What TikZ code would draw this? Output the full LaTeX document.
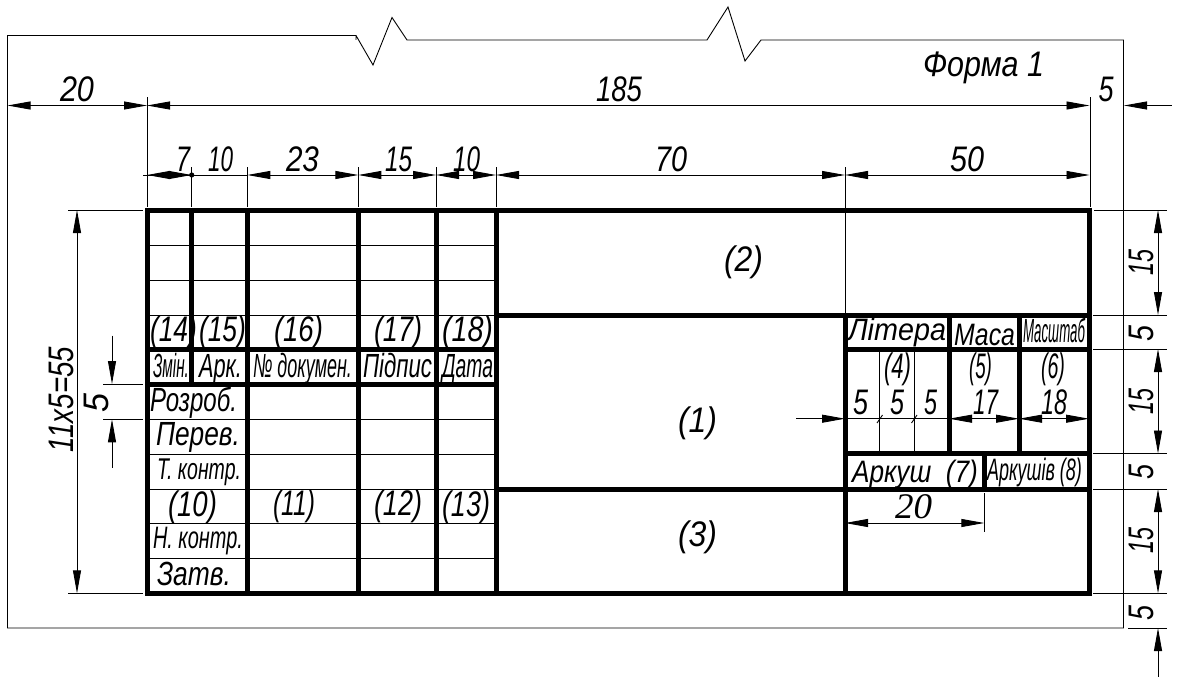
\documentclass[tikz,border=0pt]{standalone}
\usepackage{graphicx}
\usepackage{fontspec}
\setmainfont{Liberation Sans}
\newfontfamily\drawserif{Liberation Serif}
\usetikzlibrary{arrows.meta}
\tikzset{
  thinline/.style={line width=0.9pt,black},
  heavy/.style={line width=5pt,black,line cap=rect},
  dimtip/.tip={Triangle[length=23pt,width=8pt]},
  dimline/.style={line width=0.9pt,black},
  lbl/.style={anchor=base,inner sep=0pt,outer sep=0pt,font=\itshape,text=black},
  lblr/.style={lbl,rotate=90}
}
\newsavebox\labelbox
\newcommand\fitlabel[3]{\sbox\labelbox{\fontsize{#2}{#2}\selectfont #3}\pgfmathsetmacro\labelfactor{#1/\the\wd\labelbox}\scalebox{\labelfactor}[1]{\usebox\labelbox}}
% name, x, baseline y, width, font size, text
\newcommand\tx[6]{\node[lbl] (#1) at (#2,#3) {\fitlabel{#4}{#5}{#6}};}
\newcommand\txr[6]{\node[lblr] (#1) at (#2,#3) {\fitlabel{#4}{#5}{#6}};}
\begin{document}
\begin{tikzpicture}[x=1pt,y=-1pt]
\useasboundingbox (0,0) rectangle (1177,677);
% form outline
\draw[thinline] (356,40) -- (356,35.5) -- (7.5,35.5) -- (7.5,628) -- (1123.5,628) -- (1123.5,40) -- (761,40) -- (745,61) -- (728,7) -- (707,40) -- (407,40) -- (392,17.5) -- (373,65) -- (356,35.5);
% extension lines
\draw[thinline] (147,97) -- (147,207);
\draw[thinline] (191.7,167) -- (191.7,207);
\draw[thinline] (247.3,167) -- (247.3,207);
\draw[thinline] (358.3,167) -- (358.3,207);
\draw[thinline] (436,167) -- (436,207);
\draw[thinline] (496,167) -- (496,207);
\draw[thinline] (845,167) -- (845,315);
\draw[thinline] (1090,97) -- (1090,207);
\draw[thinline] (68,210) -- (143,210);
\draw[thinline] (68,593.3) -- (143,593.3);
\draw[thinline] (103,384) -- (143,384);
\draw[thinline] (103,419.3) -- (143,419.3);
\draw[thinline] (1094,210) -- (1167,210);
\draw[thinline] (1093,315) -- (1167,315);
\draw[thinline] (1093,349) -- (1167,349);
\draw[thinline] (1093,453.5) -- (1167,453.5);
\draw[thinline] (1093,489) -- (1167,489);
\draw[thinline] (1093,593.3) -- (1167,593.3);
\draw[thinline] (1128,628) -- (1167,628);
\draw[thinline] (984.3,493) -- (984.3,532);
% dimension lines
\draw[dimline,{dimtip}-{dimtip}] (7.5,105.5) -- (147,105.5);
\draw[dimline,{dimtip}-{dimtip}] (147,105.5) -- (1089.5,105.5);
\draw[dimline,{dimtip}-] (1124,105.5) -- (1172,105.5);
\draw[dimline,-{dimtip}] (143,175) -- (191.7,175);
\draw[dimline,{dimtip}-] (147,175) -- (191.7,175);
\draw[dimline] (191.7,175) -- (247.3,175);
\fill (191.7,175) circle (2.6pt);
\draw[dimline,{dimtip}-{dimtip}] (247.3,175) -- (358.3,175);
\draw[dimline,{dimtip}-{dimtip}] (358.3,175) -- (436,175);
\draw[dimline,{dimtip}-{dimtip}] (436,175) -- (496,175);
\draw[dimline,{dimtip}-{dimtip}] (496,175) -- (845,175);
\draw[dimline,{dimtip}-{dimtip}] (845,175) -- (1089.5,175);
\draw[dimline,{dimtip}-{dimtip}] (77,210) -- (77,593.3);
\draw[dimline,-{dimtip}] (112,335.5) -- (112,384);
\draw[dimline,{dimtip}-] (112,419.3) -- (112,468);
\draw[dimline,{dimtip}-{dimtip}] (1158,210) -- (1158,315);
\draw[dimline,{dimtip}-{dimtip}] (1158,349) -- (1158,453.5);
\draw[dimline,{dimtip}-{dimtip}] (1158,489) -- (1158,593.3);
\draw[dimline,{dimtip}-] (1158,628) -- (1158,677);
\draw[dimline,-{dimtip}] (796,418.7) -- (845,418.7);
\draw[dimline] (845,418.7) -- (949,418.7);
\draw[dimline,{dimtip}-{dimtip}] (949,418.7) -- (1019,418.7);
\draw[dimline,{dimtip}-{dimtip}] (1019,418.7) -- (1089,418.7);
\draw[dimline,{dimtip}-{dimtip}] (845,523) -- (984.3,523);
% thin cells
\foreach \y in {245,280,315,419.3,454.3,489,523.3,558.3}
  \draw[thinline] (147,\y) -- (496,\y);
\draw[thinline] (879.7,349) -- (879.7,453.5);
\draw[thinline] (914.3,349) -- (914.3,453.5);
\draw[thinline] (877,423) -- (882.5,415);
\draw[thinline] (911.5,423) -- (917,415);
% heavy frame
\draw[heavy] (147,210) rectangle (1089,593.3);
\foreach \x in {247.3,358.3,436,496}
  \draw[heavy] (\x,210) -- (\x,593.3);
\draw[heavy] (191.7,210) -- (191.7,384);
\draw[heavy] (147,349.3) -- (496,349.3);
\draw[heavy] (147,384) -- (496,384);
\draw[heavy] (496,315) -- (1089,315);
\draw[heavy] (496,489) -- (1089,489);
\draw[heavy] (845,315) -- (845,593.3);
\draw[heavy] (845,349) -- (1089,349);
\draw[heavy] (845,453.5) -- (1089,453.5);
\draw[heavy] (949.3,315) -- (949.3,453.5);
\draw[heavy] (1019,315) -- (1019,453.5);
\draw[heavy] (984.3,453.5) -- (984.3,489);
% top texts
\tx{a20}{77}{101}{34}{35.5}{20}
\tx{a185}{619}{101}{46}{35.5}{185}
\tx{a5}{1106}{101}{15}{35.5}{5}
\tx{forma}{983.5}{77}{121}{35.5}{Форма 1}
\tx{b7}{183}{171}{14}{35.5}{7}
\tx{b10}{220.5}{171}{25}{35.5}{10}
\tx{b23}{302.5}{171}{33}{35.5}{23}
\tx{b15}{398.5}{171}{27}{35.5}{15}
\tx{b10b}{466.5}{171}{27}{35.5}{10}
\tx{b70}{671}{171}{32}{35.5}{70}
\tx{b50}{967}{171}{34}{35.5}{50}
% left and right rotated
\txr{c55}{73}{399.5}{105}{35.5}{11x5=55}
\txr{c5}{108}{402.5}{19}{35.5}{5}
\txr{d15a}{1153}{262}{26}{35.5}{15}
\txr{d5a}{1153}{333}{16}{35.5}{5}
\txr{d15b}{1153}{401.5}{26}{35.5}{15}
\txr{d5b}{1153}{471.5}{15}{35.5}{5}
\txr{d15c}{1153}{540}{26}{35.5}{15}
\txr{d5c}{1153}{612.5}{15}{35.5}{5}
% big centres
\tx{n2}{743.5}{271}{39}{35.5}{(2)}
\tx{n1}{697.5}{432}{39}{35.5}{(1)}
\tx{n3}{697.5}{546}{39}{35.5}{(3)}
% left table
\tx{n14}{173.5}{341}{47}{35.5}{(14)}
\tx{n15}{222.5}{341}{47}{35.5}{(15)}
\tx{n16}{298.5}{341}{49}{35.5}{(16)}
\tx{n17}{398}{341}{48}{35.5}{(17)}
\tx{n18}{467.5}{341}{51}{35.5}{(18)}
\tx{zmin}{171}{377}{36}{33.5}{Змін.}
\tx{ark}{220.5}{377}{43}{33.5}{Арк.}
\tx{doc}{302.5}{377}{99}{33.5}{№ докумен.}
\tx{pidp}{397.5}{377}{69}{33.5}{Підпис}
\tx{data}{467.5}{377}{51}{33.5}{Дата}
\tx{rozr}{193.5}{411}{87}{33.5}{Розроб.}
\tx{perev}{198}{445}{84}{33.5}{Перев.}
\tx{tkon}{199}{479}{84}{30}{Т. контр.}
\tx{n10}{192.5}{516}{49}{35.5}{(10)}
\tx{n11}{294}{515}{42}{35.5}{(11)}
\tx{n12}{398}{515}{48}{35.5}{(12)}
\tx{n13}{466}{516}{48}{35.5}{(13)}
\tx{nkon}{198}{548}{90}{31}{Н. контр.}
\tx{zatv}{194}{585}{74}{33.5}{Затв.}
% right panel
\tx{lit}{897}{340}{98}{31}{Літера}
\tx{masa}{984.5}{345}{61}{31}{Маса}
\tx{masht}{1054}{342}{62}{33.5}{Масштаб}
\tx{n4}{897.5}{378}{27}{35.5}{(4)}
\tx{n5}{980.5}{378}{23}{35.5}{(5)}
\tx{n6}{1053}{378}{24}{35.5}{(6)}
\tx{e5a}{860.5}{414}{15}{35.5}{5}
\tx{e5b}{897}{414}{14}{35.5}{5}
\tx{e5c}{930.5}{414}{13}{35.5}{5}
\tx{e17}{985.5}{414}{25}{35.5}{17}
\tx{e18}{1054}{414}{26}{35.5}{18}
\tx{arkn}{915}{482}{126}{31}{Аркуш\ \ (7)}
\tx{arks}{1034.5}{480}{95}{31}{Аркушів (8)}
\tx{f20}{913.5}{518}{37}{36}{\drawserif 20}
\end{tikzpicture}
\end{document}
